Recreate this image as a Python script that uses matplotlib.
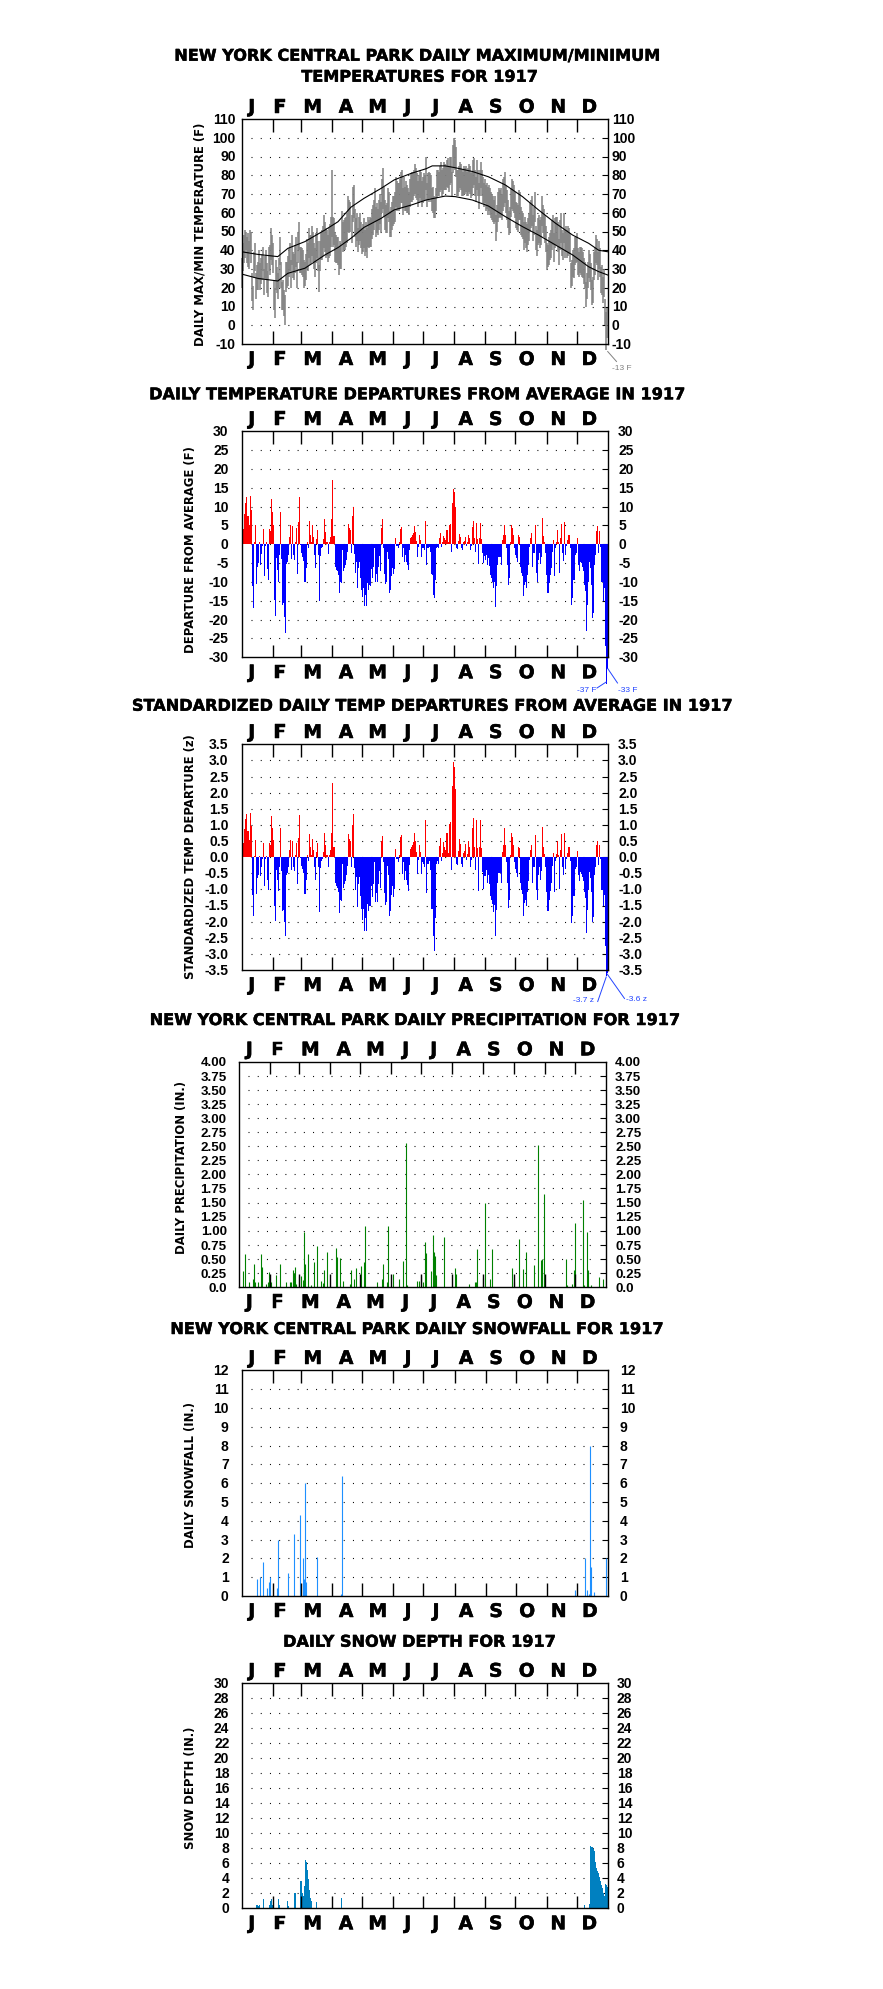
import numpy as np
import matplotlib
matplotlib.use("Agg")
import matplotlib.pyplot as plt
from matplotlib.transforms import ScaledTranslation
from matplotlib.lines import Line2D
import matplotlib.patheffects as pe

# ---------------- DATA ----------------
YEAR = 1917
MONTH_LABELS = ['J', 'F', 'M', 'A', 'M', 'J', 'J', 'A', 'S', 'O', 'N', 'D']
MONTH_DAYS = [31, 28, 31, 30, 31, 30, 31, 31, 30, 31, 30, 31]

# daily max / min temperature (F)
TMAX_JAN = [36,44,48,51,50,47,49,45,51,50,28,21,39,44,28,32,34,40,33,36,38,42,30,37,40,33,29,42,43,52,48]
TMIN_JAN = [20,29,33,36,40,33,31,30,39,33,13,8,25,29,14,19,19,24,19,22,24,29,16,25,24,17,15,29,27,35,32]
TMAX_FEB = [44,24,20,35,31,28,36,47,34,23,24,19,16,34,34,37,41,44,35,48,39,38,43,47,34,49,55,42]
TMIN_FEB = [28,8,4,19,17,14,20,32,20,8,8,5,0,18,20,21,26,29,20,32,25,24,28,31,20,33,40,28]
TMAX_MAR = [42,41,40,35,34,38,46,44,52,48,48,53,50,44,41,49,52,45,32,45,50,51,53,59,55,52,51,48,52,54,58]
TMIN_MAR = [28,27,26,20,21,24,30,29,36,32,33,37,34,30,26,33,36,29,18,29,35,35,37,41,39,36,37,34,36,37,42]
TMAX_APR = [83,58,57,49,48,47,47,42,45,44,61,55,56,57,58,60,69,67,66,59,74,75,62,57,60,52,58,60,55,52]
TMIN_APR = [47,42,43,34,33,33,32,27,30,30,44,39,40,40,42,44,50,49,50,44,55,57,47,42,45,39,43,45,41,38]
TMAX_MAY = [54,57,51,55,52,58,56,58,57,62,64,67,73,63,65,62,67,70,66,78,84,74,67,64,65,73,71,61,63,66,69]
TMIN_MAY = [39,41,37,39,36,42,41,42,42,46,48,51,55,47,49,48,51,54,50,60,62,58,51,49,49,57,55,47,47,51,53]
TMAX_JUN = [69,71,79,77,76,76,78,82,83,73,79,74,77,75,73,71,78,81,82,82,83,86,84,81,77,80,83,82,77,79]
TMIN_JUN = [54,55,63,61,62,61,62,65,65,59,63,61,61,60,60,59,63,66,66,67,69,70,68,67,63,65,68,66,63,65]
TMAX_JUL = [81,80,90,76,81,82,81,80,73,74,69,68,73,83,83,82,85,87,83,84,87,86,85,88,89,85,90,90,82,96,100]
TMIN_JUL = [67,67,72,63,67,66,68,66,61,60,57,57,61,68,69,69,71,72,69,70,72,72,72,74,73,71,75,76,69,81,84]
TMAX_AUG = [99,95,83,83,85,87,86,83,82,85,84,85,82,84,86,85,81,82,88,89,83,79,88,83,76,83,87,83,79,76,78]
TMIN_AUG = [83,79,69,69,71,73,72,69,69,70,70,71,69,69,71,70,68,69,73,75,69,66,72,69,62,69,73,69,65,63,65]
TMAX_SEP = [75,76,74,75,73,71,70,69,67,69,59,64,71,73,72,73,70,78,79,82,75,72,67,61,63,73,78,77,75,71]
TMIN_SEP = [61,62,59,61,59,57,56,55,54,55,45,50,55,57,58,57,56,61,63,65,60,56,52,48,49,58,62,61,60,57]
TMAX_OCT = [66,65,64,72,71,63,61,60,55,58,55,54,57,60,65,67,69,59,63,71,53,51,57,59,56,58,69,64,62,59,53]
TMIN_OCT = [52,51,50,56,56,48,47,46,40,44,41,39,43,45,50,52,53,45,48,55,40,37,43,44,41,43,53,49,47,44,39]
TMAX_NOV = [44,43,47,49,51,56,59,49,57,58,58,55,46,56,60,51,49,60,51,53,51,53,52,49,33,35,40,41,47,47]
TMIN_NOV = [30,31,32,35,36,40,43,34,41,43,43,39,32,40,44,37,35,44,36,39,36,37,38,34,20,21,26,25,32,33]
TMAX_DEC = [49,41,39,42,42,41,39,36,34,23,28,34,40,38,33,24,26,39,42,48,46,39,45,41,31,32,26,30,14,7,9]
TMIN_DEC = [34,27,26,28,27,26,25,22,20,10,14,20,25,23,19,11,12,24,27,33,32,24,30,26,17,16,12,15,0,-13,-7]

# normal max / min curves (day of year, F)
NORM_DAY = [0, 16, 36, 46, 63, 83, 96, 109, 122, 139, 152, 169, 184, 190, 203, 213, 230, 246, 263, 280, 296, 313, 330, 346, 356, 365]
NORM_MAX = [39.2, 37.8, 36.6, 41, 44.6, 50.8, 55.2, 63, 67.7, 73, 77.5, 81, 83.5, 85, 85, 84, 82, 79.2, 74.8, 68.6, 61.5, 54.4, 48.1, 43.7, 40, 39.2]
NORM_MIN = [27.3, 25, 23.6, 27.7, 30.4, 37.5, 41.4, 46.4, 52.2, 57, 61.5, 64.1, 66.8, 67.5, 68.9, 68.6, 66.8, 63.6, 57.9, 52.6, 48.1, 42.8, 37.5, 31.2, 28.6, 26.8]

# daily departure from average (F)
DEP_JAN = [-4.5,4,8,11,12.5,7.5,7.5,5,12.7,9,-11,-17,0.5,5,-10.5,-6,-5,0.5,-5.5,-2.7,-0.5,4,-8.5,-0.5,0.5,-6.5,-9.5,4,3.5,12,8.5]
DEP_FEB = [5,-14.7,-19,-3.7,-6.8,-10,-2.8,8.6,-4,-16,-15.6,-19.4,-23.5,-5.3,-4.6,-2.8,2,5.2,-3.9,4.8,-2.8,-4.2,0.7,4.2,-8,5.8,12.6,-0.2]
DEP_MAR = [-2.4,-3.3,-4.4,-10,-10,-6.3,0.5,-1,6.3,2.6,0.5,5,2,-2.8,-6.3,1.3,3.8,-2.8,-15,-3,-1,-0.6,1.3,6.7,3.3,0.7,0.7,-2.6,0.7,2,6.7]
DEP_APR = [17.2,2.3,2.3,-6,-6.8,-7.2,-8.1,-13,-10,-10.3,-1.5,-7.2,-6.3,-5.5,-4.1,-2,5.5,4.2,3.8,-2.4,7.6,10,-2.6,-7.7,-4.6,-11.6,-6.3,-4.6,-9,-12]
DEP_MAY = [-14,-11.6,-16.5,-13.5,-16.5,-10.4,-12,-10.8,-11,-6.5,-9,-6,-1,-10,-8,-10,-6,-3,-7,4.2,6.7,-1,-8,-10.6,-10,-2,-4,-13,-12,-8.5,-6.3]
DEP_JUN = [-8,-6.5,1.6,-0.4,-0.4,-1,0.5,4,4.5,-3.3,-1,-4.6,-2.8,-4.6,-5.5,-6.8,-1.5,1.6,2,2.5,3.1,4.9,3.3,1,-3.3,-0.6,2.5,1.1,-3.3,-1]
DEP_JUL = [-1,-1.5,6.3,-5.5,-1,-1,-0.6,-2,-8,-8.1,-13.5,-14.2,-9.4,-1,-0.6,-1,1.8,2.9,-0.6,0.7,2.3,1.6,1.1,3.8,3.8,0.7,5.1,5.5,-2,11,14.8]
DEP_AUG = [14,10,-1,-1.2,1,2.8,2,-1,-1.5,0.7,1,2,-0.5,0.5,2.5,1.6,-1.5,-0.5,4.5,6.3,1.6,-2,5.7,1.4,-5.3,1.6,5.7,1.4,-2.3,-5,-3]
DEP_SEP = [-4.1,-2.8,-5.5,-3.7,-5.7,-8.1,-9,-9.9,-11.5,-10.1,-16.7,-11.2,-5.5,-3.3,-3.3,-3.3,-5.5,1.1,2.5,5.1,2.6,-1,-5.5,-10.7,-9,0.5,5.1,4.2,2.5,-1]
DEP_OCT = [-2.8,-3.7,-4.6,2.5,2,-6,-7.7,-8.5,-13.8,-10.7,-9.9,-11.5,-8.1,-5.5,-0.6,1.6,2.9,-6,-2.4,5.1,-7.7,-9.9,-4.1,-2.4,-5.3,-3.3,6.9,2.3,0.7,-2.4,-8.1]
DEP_NOV = [-13,-13,-10.3,-8.1,-6.3,-2,1.1,-8.5,-1,0.7,3.8,0.5,-7.7,1.6,5.5,-2.4,-4.4,5.8,-2.8,-0.5,1.1,2.6,2.5,-1,-16,-14.3,-9.4,-9.4,-2.8,-2.4]
DEP_DEC = [1.8,-5.5,-7.2,-4.6,-5,-6,-7.2,-10.7,-12.5,-23,-16,-9.9,-4.6,-6.3,-10.7,-19.6,-18.2,-5.5,-2.8,3.6,4.8,-2.4,3.6,-0.6,-10,-10,-15,-11.6,-27,-37,-33]

# standardized daily departures (z)
Z_JAN = [-0.48,0.43,0.86,1.18,1.34,0.81,0.81,0.54,1.37,0.97,-1.18,-1.83,0.05,0.54,-1.13,-0.65,-0.54,0.05,-0.59,-0.29,-0.05,0.43,-0.91,-0.05,0.05,-0.70,-1.02,0.43,0.38,1.29,0.91]
Z_FEB = [0.52,-1.53,-1.98,-0.39,-0.71,-1.04,-0.29,0.90,-0.42,-1.67,-1.63,-2.02,-2.45,-0.55,-0.48,-0.29,0.21,0.54,-0.41,0.50,-0.29,-0.44,0.07,0.44,-0.83,0.60,1.31,-0.02]
Z_MAR = [-0.27,-0.38,-0.50,-1.14,-1.14,-0.72,0.06,-0.11,0.72,0.30,0.06,0.57,0.23,-0.32,-0.72,0.15,0.43,-0.32,-1.70,-0.34,-0.11,-0.07,0.15,0.76,0.38,0.08,0.08,-0.30,0.08,0.23,0.76]
Z_APR = [2.29,0.31,0.31,-0.80,-0.91,-0.96,-1.08,-1.73,-1.33,-1.37,-0.20,-0.96,-0.84,-0.73,-0.55,-0.27,0.73,0.56,0.51,-0.32,1.01,1.33,-0.35,-1.03,-0.61,-1.55,-0.84,-0.61,-1.20,-1.60]
Z_MAY = [-1.94,-1.61,-2.29,-1.88,-2.29,-1.44,-1.67,-1.50,-1.53,-0.90,-1.25,-0.83,-0.14,-1.39,-1.11,-1.39,-0.83,-0.42,-0.97,0.50,0.67,-0.14,-1.11,-1.47,-1.39,-0.28,-0.56,-1.81,-1.67,-1.18,-0.88]
Z_JUN = [-1.23,-1.00,0.25,-0.06,-0.06,-0.15,0.08,0.62,0.69,-0.51,-0.15,-0.71,-0.43,-0.71,-0.85,-1.05,-0.23,0.25,0.31,0.38,0.48,0.75,0.51,0.15,-0.51,-0.09,0.38,0.17,-0.51,-0.15]
Z_JUL = [-0.20,-0.30,1.15,-1.10,-0.20,-0.20,-0.12,-0.40,-1.60,-1.62,-2.45,-2.90,-1.88,-0.20,-0.12,-0.20,0.36,0.58,-0.12,0.14,0.46,0.32,0.22,0.76,0.76,0.14,1.02,1.10,-0.40,2.20,2.96]
Z_AUG = [2.80,2.10,-0.20,-0.24,0.20,0.56,0.40,-0.20,-0.30,0.14,0.20,0.40,-0.10,0.10,0.50,0.32,-0.30,-0.10,0.90,1.20,0.32,-0.40,1.14,0.28,-1.06,0.32,1.14,0.28,-0.46,-1.00,-0.60]
Z_SEP = [-0.60,-0.41,-0.81,-0.54,-0.84,-1.19,-1.32,-1.46,-1.69,-1.49,-2.46,-1.65,-0.81,-0.49,-0.49,-0.49,-0.81,0.16,0.37,0.90,0.38,-0.15,-0.81,-1.57,-1.32,0.07,0.75,0.62,0.37,-0.15]
Z_OCT = [-0.37,-0.49,-0.61,0.33,0.27,-0.80,-1.03,-1.13,-1.84,-1.43,-1.32,-1.53,-1.08,-0.73,-0.08,0.21,0.39,-0.80,-0.32,0.68,-1.03,-1.32,-0.55,-0.32,-0.71,-0.44,0.92,0.31,0.09,-0.32,-1.08]
Z_NOV = [-1.67,-1.67,-1.32,-1.04,-0.81,-0.26,0.14,-1.09,-0.13,0.09,0.49,0.06,-0.99,0.21,0.71,-0.31,-0.56,0.74,-0.36,-0.06,0.14,0.33,0.32,-0.13,-2.05,-1.83,-1.21,-1.21,-0.36,-0.31]
Z_DEC = [0.18,-0.56,-0.73,-0.47,-0.51,-0.61,-0.73,-1.09,-1.28,-2.35,-1.63,-1.01,-0.47,-0.64,-1.09,-2.00,-1.86,-0.56,-0.29,0.37,0.49,-0.24,0.37,-0.06,-1.02,-1.02,-1.53,-1.18,-2.76,-3.70,-3.60]

# precipitation (day index 0 = Jan 1, inches)
PRCP_DAY = [3,5,9,13,14,15,18,21,22,26,28,29,30,31,36,40,46,50,51,53,54,55,56,59,61,63,64,65,68,71,74,77,81,83,84,87,96,97,100,103,110,111,114,116,120,121,124,125,137,142,143,147,148,152,158,162,165,166,176,178,180,182,184,185,190,192,193,194,195,203,214,215,228,234,235,236,242,244,249,251,271,273,278,282,285,293,297,300,301,303,325,326,331,333,334,342,343,346,347,350,358,362]
PRCP_IN = [0.28,0.59,0.08,0.14,0.41,0.09,0.08,0.59,0.36,0.05,0.09,0.27,0.07,0.09,0.21,0.41,0.09,0.08,0.09,0.30,0.24,0.36,0.05,0.20,0.20,0.12,0.97,0.41,0.59,0.04,0.45,0.72,0.11,0.07,0.30,0.63,0.69,0.53,0.51,0.11,0.05,0.30,0.14,0.34,0.02,0.37,0.45,1.08,0.09,0.14,0.41,0.08,1.08,0.23,0.14,0.47,2.56,0.03,0.11,0.11,0.20,0.08,0.80,0.61,0.28,0.92,0.63,0.55,0.21,0.88,0.34,0.23,0.06,0.08,0.09,0.68,0.16,1.50,0.14,0.68,0.34,0.09,0.86,0.32,0.62,0.39,2.52,0.48,0.50,1.66,0.49,0.04,0.05,0.30,1.14,1.54,0.03,0.98,0.30,0.04,0.18,0.14]

# snowfall (inches)
SNOW_DAY = [15,18,21,25,27,28,35,36,46,52,58,61,62,63,64,74,98,99,331,341,343,345,346,347,350,362]
SNOW_IN = [0.92,1.0,1.8,0.45,0.73,1.0,0.43,3.0,1.2,3.3,4.3,2.0,0.9,6.0,0.73,2.1,0.1,6.4,0.32,2.0,0.32,0.1,8.0,1.55,0.2,2.0]

# snow depth (inches)
DEPTH_DAY = [14,15,16,17,21,27,28,29,30,31,36,37,45,46,52,53,58,59,60,61,62,63,64,65,66,67,68,69,74,99,341,346,347,348,349,350,351,352,353,354,355,356,357,358,359,360,361,362,363,364]
DEPTH_IN = [0.5,0.5,0.3,0.4,1.3,0.5,1.0,1.3,0.4,0.3,1.3,0.4,1.0,0.3,2.1,2.1,3.6,3.6,2.1,1.6,3.0,6.4,6.1,5.1,3.9,2.5,1.4,1.0,0.8,1.4,0.4,0.6,8.3,8.2,8.1,7.9,7.6,6.1,5.3,5.0,4.7,4.2,3.6,3.1,2.7,2.1,1.7,3.3,3.1,2.9]

# ---------------- ASSEMBLY ----------------
tmax = np.array(TMAX_JAN + TMAX_FEB + TMAX_MAR + TMAX_APR + TMAX_MAY + TMAX_JUN +
                TMAX_JUL + TMAX_AUG + TMAX_SEP + TMAX_OCT + TMAX_NOV + TMAX_DEC, float)
tmin = np.array(TMIN_JAN + TMIN_FEB + TMIN_MAR + TMIN_APR + TMIN_MAY + TMIN_JUN +
                TMIN_JUL + TMIN_AUG + TMIN_SEP + TMIN_OCT + TMIN_NOV + TMIN_DEC, float)
dep = np.array(DEP_JAN + DEP_FEB + DEP_MAR + DEP_APR + DEP_MAY + DEP_JUN +
               DEP_JUL + DEP_AUG + DEP_SEP + DEP_OCT + DEP_NOV + DEP_DEC, float)
zdep = np.array(Z_JAN + Z_FEB + Z_MAR + Z_APR + Z_MAY + Z_JUN +
                Z_JUL + Z_AUG + Z_SEP + Z_OCT + Z_NOV + Z_DEC, float)

MONTH_BOUNDS = np.cumsum(MONTH_DAYS)[:-1]
# label positions (day units) for the month letters
LABEL_POS = [10, 38.2, 70.8, 104, 135.6, 165.6, 193.5, 223.4, 253.3, 284.2, 315.7, 346.7]

W, H = 883, 1989
fig = plt.figure(figsize=(W / 100, H / 100), dpi=100)
fig.patch.set_facecolor('white')

TF = 'DejaVu Sans'
NF = 'Liberation Sans'
HEAVY = [pe.withStroke(linewidth=0.35, foreground='black')]


def sh(dx, dy):
    return ScaledTranslation(dx / 100.0, dy / 100.0, fig.dpi_scale_trans)


def fx(x):
    return x / W


def fy(y):
    return 1 - y / H


def make_panel(box, ymin, ymax, ticks, labels, lpad, rpad, ylabel, ylab_xy,
               titles, tick_fs=10):
    l, t, r, b = box
    hpx = b - t
    ax = fig.add_axes([fx(l), fy(b), (r - l) / W, hpx / H])
    ax.set_xlim(0, 365)
    ax.set_ylim(ymin, ymax)
    ax.set_xticks([])
    ax.set_yticks([])
    for s in ax.spines.values():
        s.set_linewidth(1.0)
        s.set_color('black')
    inner = ticks[1:-1]
    ax.hlines(inner, 9, 357, colors='black', linewidth=0.8,
              linestyles=[(0, (0.9, 7.4))], zorder=0.5)
    ax.hlines(inner, 359, 365, colors='black', linewidth=0.8, zorder=0.5)
    L = 12.7 / hpx * (ymax - ymin)
    ax.vlines(MONTH_BOUNDS, ymax - L, ymax, colors='black', linewidth=1.0, zorder=3)
    ax.vlines(MONTH_BOUNDS, ymin, ymin + L, colors='black', linewidth=1.0, zorder=3)
    ytr = ax.get_yaxis_transform()
    cap = 0.716 * tick_fs * 100 / 72 / 2
    for v, lab in zip(ticks, labels):
        ax.text(0, v, lab, transform=ytr + sh(-lpad, -cap), ha='right', va='baseline',
                fontsize=tick_fs, fontweight='bold', fontfamily=NF, clip_on=False)
        ax.text(1, v, lab, transform=ytr + sh(rpad, -cap), ha='left', va='baseline',
                fontsize=tick_fs, fontweight='bold', fontfamily=NF, clip_on=False)
    xtr = ax.get_xaxis_transform()
    for p, m in zip(LABEL_POS, MONTH_LABELS):
        ax.text(p, 1, m, transform=xtr + sh(0, 6.3), ha='center', va='baseline',
                fontsize=13.5, fontweight='bold', fontfamily=TF, clip_on=False,
                path_effects=HEAVY)
        ax.text(p, 0, m, transform=xtr + sh(0, -21), ha='center', va='baseline',
                fontsize=13.5, fontweight='bold', fontfamily=TF, clip_on=False,
                path_effects=HEAVY)
    fig.text(fx(ylab_xy[0]), fy(ylab_xy[1]), ylabel, rotation=90, ha='center', va='center',
             fontsize=8.4, fontweight='bold', fontfamily=TF)
    for (cx, base, txt) in titles:
        fig.text(fx(cx), fy(base), txt, ha='center', va='baseline',
                 fontsize=11.6, fontweight='bold', fontfamily=TF, path_effects=HEAVY)
    return ax


def fig_line(p0, p1, color):
    fig.add_artist(Line2D([fx(p0[0]), fx(p1[0])], [fy(p0[1]), fy(p1[1])],
                          color=color, linewidth=0.7))


def fig_note(x, y, txt, color, ha):
    fig.text(fx(x), fy(y), txt, ha=ha, va='baseline', fontsize=6,
             fontfamily=NF, color=color)


days = np.arange(len(tmax))

# ---- Panel 1: max/min temperatures
t1 = list(range(-10, 111, 10))
ax1 = make_panel((241.7, 119, 607.7, 344), -10, 110, t1, [str(v) for v in t1], 6, 4,
                 'DAILY MAX/MIN TEMPERATURE (F)', (200, 234),
                 [(418, 60.7, 'NEW YORK CENTRAL PARK DAILY MAXIMUM/MINIMUM'),
                  (420, 81.7, 'TEMPERATURES FOR %d' % YEAR)])
ax1.vlines(days + 0.5, tmin, tmax, colors='#808080', linewidth=1.1, clip_on=False, zorder=1)
ax1.plot(NORM_DAY, NORM_MAX, color='black', linewidth=0.8, zorder=2)
ax1.plot(NORM_DAY, NORM_MIN, color='black', linewidth=0.8, zorder=2)
fig_line((607.7, 351.5), (616.5, 361.5), '#808080')
fig_note(612, 369.5, '-13 F', '#808080', 'left')

# ---- Panel 2: departures
t2 = list(range(-30, 31, 5))
ax2 = make_panel((241.7, 431.3, 607.7, 657.3), -30, 30, t2, [str(v) for v in t2], 13, 10.5,
                 'DEPARTURE FROM AVERAGE (F)', (190.7, 550),
                 [(418, 399.3, 'DAILY TEMPERATURE DEPARTURES FROM AVERAGE IN %d' % YEAR)])
cols2 = np.where(dep >= 0, '#ff0000', '#0000ff')
ax2.bar(np.arange(len(dep)), dep, width=1.0, align='edge', color=cols2,
        linewidth=0, antialiased=False, clip_on=False, zorder=1)
fig_line((606.2, 682), (597, 688), '#2244ff')
fig_note(596, 692, '-37 F', '#2244ff', 'right')
fig_line((607.7, 668.5), (617.5, 683), '#2244ff')
fig_note(618, 692, '-33 F', '#2244ff', 'left')

# ---- Panel 3: standardized departures
t3 = [v / 2 for v in range(-7, 8)]
ax3 = make_panel((241.7, 744.3, 607.7, 970), -3.5, 3.5, t3, ['%.1f' % v for v in t3], 13, 10.5,
                 'STANDARDIZED TEMP DEPARTURE (z)', (190.7, 857),
                 [(433, 710.7, 'STANDARDIZED DAILY TEMP DEPARTURES FROM AVERAGE IN %d' % YEAR)])
cols3 = np.where(zdep >= 0, '#ff0000', '#0000ff')
ax3.bar(np.arange(len(zdep)), zdep, width=1.0, align='edge', color=cols3,
        linewidth=0, antialiased=False, clip_on=False, zorder=1)
fig_line((606.2, 977), (597.7, 1001.5), '#2244ff')
fig_note(594, 1002.5, '-3.7 z', '#2244ff', 'right')
fig_line((607.2, 974), (624.5, 998.5), '#2244ff')
fig_note(626.5, 1001, '-3.6 z', '#2244ff', 'left')

# ---- Panel 4: precipitation
t4 = [v / 4 for v in range(0, 17)]
l4 = ['0.0'] + ['%.2f' % v for v in t4[1:]]
ax4 = make_panel((239.3, 1061.7, 606, 1287), 0, 4, t4, l4, 12.6, 9,
                 'DAILY PRECIPITATION (IN.)', (181.7, 1167),
                 [(415.5, 1025, 'NEW YORK CENTRAL PARK DAILY PRECIPITATION FOR %d' % YEAR)],
                 tick_fs=9.6)
ax4.vlines(np.array(PRCP_DAY) + 0.5, 0, PRCP_IN, colors='#008000', linewidth=0.8, zorder=1)

# ---- Panel 5: snowfall
t5 = list(range(0, 13))
ax5 = make_panel((241.7, 1370.3, 608.3, 1596), 0, 12, t5, [str(v) for v in t5], 13, 11.5,
                 'DAILY SNOWFALL (IN.)', (190.7, 1475),
                 [(417.5, 1334, 'NEW YORK CENTRAL PARK DAILY SNOWFALL FOR %d' % YEAR)])
ax5.vlines(np.array(SNOW_DAY) + 0.5, 0, SNOW_IN, colors='#1e90ff', linewidth=0.8, zorder=1)

# ---- Panel 6: snow depth
t6 = list(range(0, 31, 2))
ax6 = make_panel((241.7, 1683, 607.7, 1908.3), 0, 30, t6, [str(v) for v in t6], 12.4, 9,
                 'SNOW DEPTH (IN.)', (190.7, 1788),
                 [(419.7, 1646.7, 'DAILY SNOW DEPTH FOR %d' % YEAR)])
ax6.bar(DEPTH_DAY, DEPTH_IN, width=1.0, align='edge', color='#0080c0',
        linewidth=0, antialiased=False, zorder=1)

fig.savefig('out.png', dpi=100, facecolor='white')
